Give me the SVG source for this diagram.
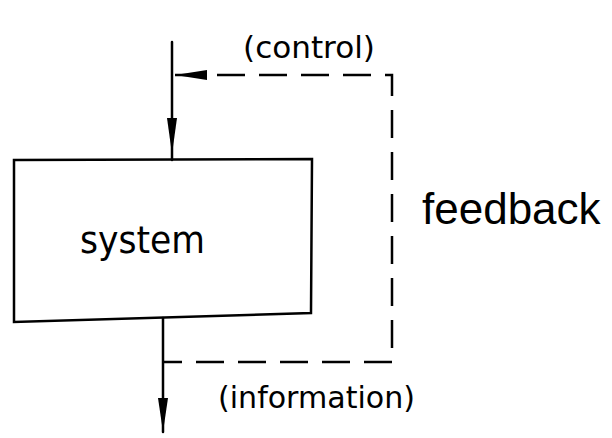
<svg xmlns="http://www.w3.org/2000/svg" width="612" height="438" viewBox="0 0 612 438">
<style>
.ln{stroke:#000;stroke-width:2.5;fill:none;stroke-linecap:round}
.dash{stroke:#000;stroke-width:2.5;fill:none;stroke-dasharray:28,14}
.t{font-family:"DejaVu Sans","Liberation Sans",sans-serif;fill:#000}
.fb{font-family:"Liberation Sans",Arial,sans-serif;fill:#000}
</style>
<rect width="612" height="438" fill="#fff"/>
<g id="connectors">
<line class="ln" x1="172" y1="42" x2="172" y2="160"/>
<path d="M167,118 L177,118 L172,154 Z" fill="#000"/>
<path class="dash" d="M175,75 L392,75 L392,362 L163,362"/>
<path d="M175,75 L207,70 L207,80 Z" fill="#000"/>
<line class="ln" x1="163" y1="318" x2="163" y2="432"/>
<path d="M158,398 L168,398 L163,432 Z" fill="#000"/>
</g>
<g id="system">
<path class="ln" d="M14,160 L312,159 L311,313 L14,322 Z" stroke-width="3"/>
<text class="t" x="80" y="253" font-size="38" textLength="125" lengthAdjust="spacingAndGlyphs">system</text>
</g>
<g id="labels">
<text class="fb" x="422" y="224" font-size="44">feedback</text>
<text class="t" x="243" y="58" font-size="30" textLength="132" lengthAdjust="spacingAndGlyphs">(control)</text>
<text class="t" x="218" y="408" font-size="30" textLength="197" lengthAdjust="spacingAndGlyphs">(information)</text>
</g>
</svg>
